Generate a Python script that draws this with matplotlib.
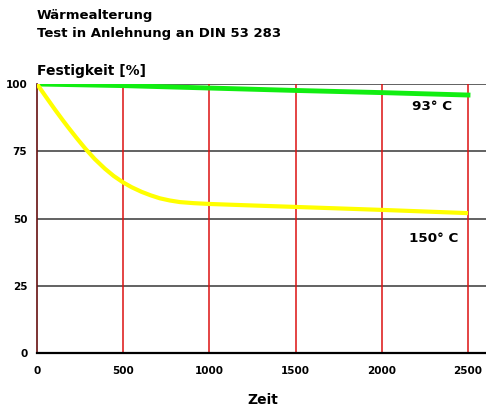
import numpy as np
import matplotlib.pyplot as plt

plt.rcParams['font.family'] = ['DejaVu Sans']
plt.rcParams['font.weight'] = 'bold'

# Festigkeit [%] über Zeit
zeit_150 = [0, 50, 104, 150, 182, 230, 280, 335, 394, 445, 500, 550, 607, 660, 713, 770, 829, 910, 1003, 1177, 1500, 2000, 2500]
fest_150 = [100, 95.4, 90.5, 86.5, 83.8, 79.9, 76.0, 72.1, 68.5, 65.8, 63.4, 61.6, 59.9, 58.6, 57.5, 56.7, 56.1, 55.7, 55.4, 55.0, 54.3, 53.2, 52.0]
zeit_93 = [0, 500, 1000, 1500, 2000, 2500]
fest_93 = [100, 99.4, 98.5, 97.6, 96.8, 95.9]
xticks = [0, 500, 1000, 1500, 2000, 2500]
yticks = [0, 25, 50, 75, 100]

fig = plt.figure(figsize=(4.86, 4.11), dpi=100)
ax = fig.add_axes([37/486, 1-353/411, 449/486, 269/411])

for y in yticks[1:]:
    ax.axhline(y, color='#555555', lw=1.3, zorder=1)
for x in xticks[1:]:
    ax.axvline(x, color='#dd1111', lw=1.1, zorder=1)

ax.plot(zeit_93, fest_93, color='#11ee11', lw=3.5, zorder=3)
ax.plot(zeit_150, fest_150, color='#ffff00', lw=3, zorder=3, solid_capstyle='butt')

ax.set_xlim(0, 2500*449/431)
ax.set_ylim(0, 100)
ax.set_xticks(xticks)
ax.set_yticks(yticks)
ax.tick_params(length=0, labelsize=7.5)
ax.tick_params(axis='y', pad=7)
ax.tick_params(axis='x', pad=9)

for s in ['top', 'right']:
    ax.spines[s].set_visible(False)
ax.spines['left'].set_color('#661111')
ax.spines['left'].set_linewidth(1.2)
ax.spines['bottom'].set_color('black')
ax.spines['bottom'].set_linewidth(1.6)

ax.text(2175, 91.5, '93° C', fontsize=9.7, va='center')
ax.text(2160, 42.5, '150° C', fontsize=9.7, va='center')

fig.text(37/486, 1-15/411, 'Wärmealterung', fontsize=9.5, va='center')
fig.text(37/486, 1-33/411, 'Test in Anlehnung an DIN 53 283', fontsize=9.5, va='center')
fig.text(37/486, 1-71/411, 'Festigkeit [%]', fontsize=10, va='center')
fig.text(263/486, 1-400/411, 'Zeit', fontsize=10, va='center', ha='center')

fig.savefig('out.png', dpi=100)
